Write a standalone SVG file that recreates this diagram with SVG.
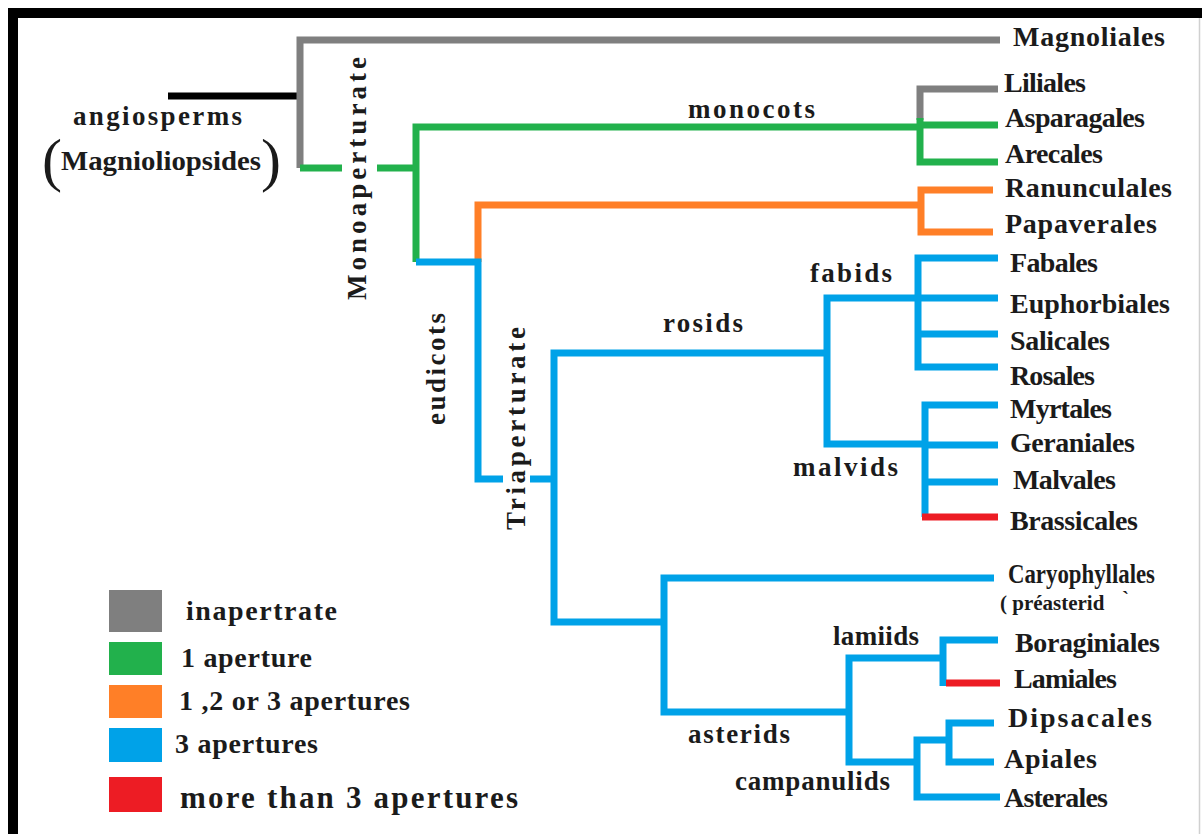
<svg xmlns="http://www.w3.org/2000/svg" width="1202" height="834" viewBox="0 0 1202 834">
<style>
.t{font-family:"Liberation Serif","Times New Roman",serif;font-weight:bold;font-size:28px;fill:#1b1b1b}
.c{font-size:27px}
.s{font-size:21px}
.par{font-family:"Liberation Serif","Times New Roman",serif;font-weight:normal;font-size:60px;fill:#1b1b1b}
.e{fill:none;stroke-width:7;stroke-linejoin:miter;stroke-linecap:butt}
.k{stroke:#000}
.g{stroke:#7f7f7f}
.gr{stroke:#22b14c}
.o{stroke:#ff7f27}
.b{stroke:#00a2e8}
.r{stroke:#ed1c24}
</style>
<rect x="0" y="0" width="1202" height="834" fill="#fff"/>
<g id="frame">
<path d="M13,834 V13 H1202" fill="none" stroke="#000" stroke-width="10"/>
<path d="M1199.5,18 V834" fill="none" stroke="#d0d0d0" stroke-width="1.5"/>
</g>
<g id="connectors">
<path class="e k" d="M168,96 H300"/>
<path class="e g" d="M1000,40 H300 V168"/>
<path class="e gr" d="M300,168 H342 M377,168 H416"/>
<path class="e gr" d="M416,262 V127 H920"/>
<path class="e g" d="M998,89 H920 V120"/>
<path class="e gr" d="M920,118 V162 H998 M920,125 H998"/>
<path class="e o" d="M478,262 V205 H921"/>
<path class="e o" d="M993,190 H921 V232 H993"/>
<path class="e b" d="M416,262 H478 V479 H503 M530,479 H554"/>
<path class="e b" d="M826,353 H554 V622 H664"/>
<path class="e b" d="M918,298 H827 V444 H925"/>
<path class="e b" d="M998,258 H918 V367 H998 M918,298 H998 M918,334 H998"/>
<path class="e b" d="M998,405 H925 V517 M925,445 H998 M925,482 H998"/>
<path class="e r" d="M922,517 H998"/>
<path class="e b" d="M994,578 H664 V712 H849"/>
<path class="e b" d="M943,658 H849 V762 H917"/>
<path class="e b" d="M998,640 H943 V686"/>
<path class="e r" d="M946,683 H1000"/>
<path class="e b" d="M1000,797 H917 V740 H949"/>
<path class="e b" d="M994,723 H949 V762 H994"/>
</g>
<g id="root-angiosperms">
<text class="t c" x="73" y="125" textLength="169">angiosperms</text>
<text class="par" x="42" y="180">(</text>
<text class="t c" x="61" y="170" textLength="200" lengthAdjust="spacingAndGlyphs">Magnioliopsides</text>
<text class="par" x="261" y="180">)</text>
</g>
<g id="clade-monoaperturate"><text class="t c" transform="translate(366,300) rotate(-90)" textLength="243">Monoaperturate</text></g>
<g id="clade-eudicots"><text class="t c" transform="translate(445,425) rotate(-90)" textLength="112">eudicots</text></g>
<g id="clade-triaperturate"><text class="t c" transform="translate(525,530) rotate(-90)" textLength="203">Triaperturate</text></g>
<g id="clade-monocots"><text class="t c" x="688" y="118" textLength="127">monocots</text></g>
<g id="clade-rosids"><text class="t c" x="663" y="332" textLength="80">rosids</text></g>
<g id="clade-fabids"><text class="t c" x="810" y="282" textLength="82">fabids</text></g>
<g id="clade-malvids"><text class="t c" x="793" y="476" textLength="105">malvids</text></g>
<g id="clade-lamiids"><text class="t c" x="833" y="645" textLength="86">lamiids</text></g>
<g id="clade-asterids"><text class="t c" x="688" y="743" textLength="102">asterids</text></g>
<g id="clade-campanulids"><text class="t c" x="735" y="790" textLength="155">campanulids</text></g>
<g id="leaf-magnoliales"><text class="t" x="1013" y="46" textLength="152">Magnoliales</text></g>
<g id="leaf-liliales"><text class="t" x="1004" y="92" textLength="82">Liliales</text></g>
<g id="leaf-asparagales"><text class="t" x="1005" y="127" textLength="140">Asparagales</text></g>
<g id="leaf-arecales"><text class="t" x="1005" y="163" textLength="98">Arecales</text></g>
<g id="leaf-ranunculales"><text class="t" x="1005" y="197" textLength="167">Ranunculales</text></g>
<g id="leaf-papaverales"><text class="t" x="1005" y="233" textLength="152">Papaverales</text></g>
<g id="leaf-fabales"><text class="t" x="1010" y="272" textLength="88">Fabales</text></g>
<g id="leaf-euphorbiales"><text class="t" x="1010" y="313" textLength="160">Euphorbiales</text></g>
<g id="leaf-salicales"><text class="t" x="1010" y="350" textLength="100">Salicales</text></g>
<g id="leaf-rosales"><text class="t" x="1010" y="385" textLength="85">Rosales</text></g>
<g id="leaf-myrtales"><text class="t" x="1010" y="418" textLength="102">Myrtales</text></g>
<g id="leaf-geraniales"><text class="t" x="1010" y="452" textLength="125">Geraniales</text></g>
<g id="leaf-malvales"><text class="t" x="1013" y="489" textLength="103">Malvales</text></g>
<g id="leaf-brassicales"><text class="t" x="1010" y="530" textLength="128">Brassicales</text></g>
<g id="leaf-caryophyllales">
<text class="t" x="1008" y="583" textLength="147" lengthAdjust="spacingAndGlyphs">Caryophyllales</text>
<text class="t s" x="1000" y="610">( préasterid</text>
<text class="t s" x="1122" y="606">`</text>
</g>
<g id="leaf-boraginiales"><text class="t" x="1015" y="652" textLength="145">Boraginiales</text></g>
<g id="leaf-lamiales"><text class="t" x="1014" y="688" textLength="103">Lamiales</text></g>
<g id="leaf-dipsacales"><text class="t" x="1008" y="727" textLength="144">Dipsacales</text></g>
<g id="leaf-apiales"><text class="t" x="1004" y="768" textLength="93">Apiales</text></g>
<g id="leaf-asterales"><text class="t" x="1004" y="807" textLength="104">Asterales</text></g>
<g id="legend">
<rect x="109" y="590" width="53" height="42" fill="#7f7f7f"/>
<rect x="109" y="642" width="53" height="33" fill="#22b14c"/>
<rect x="109" y="685" width="53" height="33" fill="#ff7f27"/>
<rect x="109" y="728" width="53" height="34" fill="#00a2e8"/>
<rect x="109" y="777" width="53" height="35" fill="#ed1c24"/>
<text class="t" x="186" y="620" textLength="151">inapertrate</text>
<text class="t" x="181" y="667" textLength="131">1 aperture</text>
<text class="t" x="179" y="710" textLength="231">1 ,2 or 3 apertures</text>
<text class="t" x="175" y="753" textLength="143">3 apertures</text>
<text class="t" x="180" y="808" style="font-size:31px" textLength="338">more than 3 apertures</text>
</g>
</svg>
